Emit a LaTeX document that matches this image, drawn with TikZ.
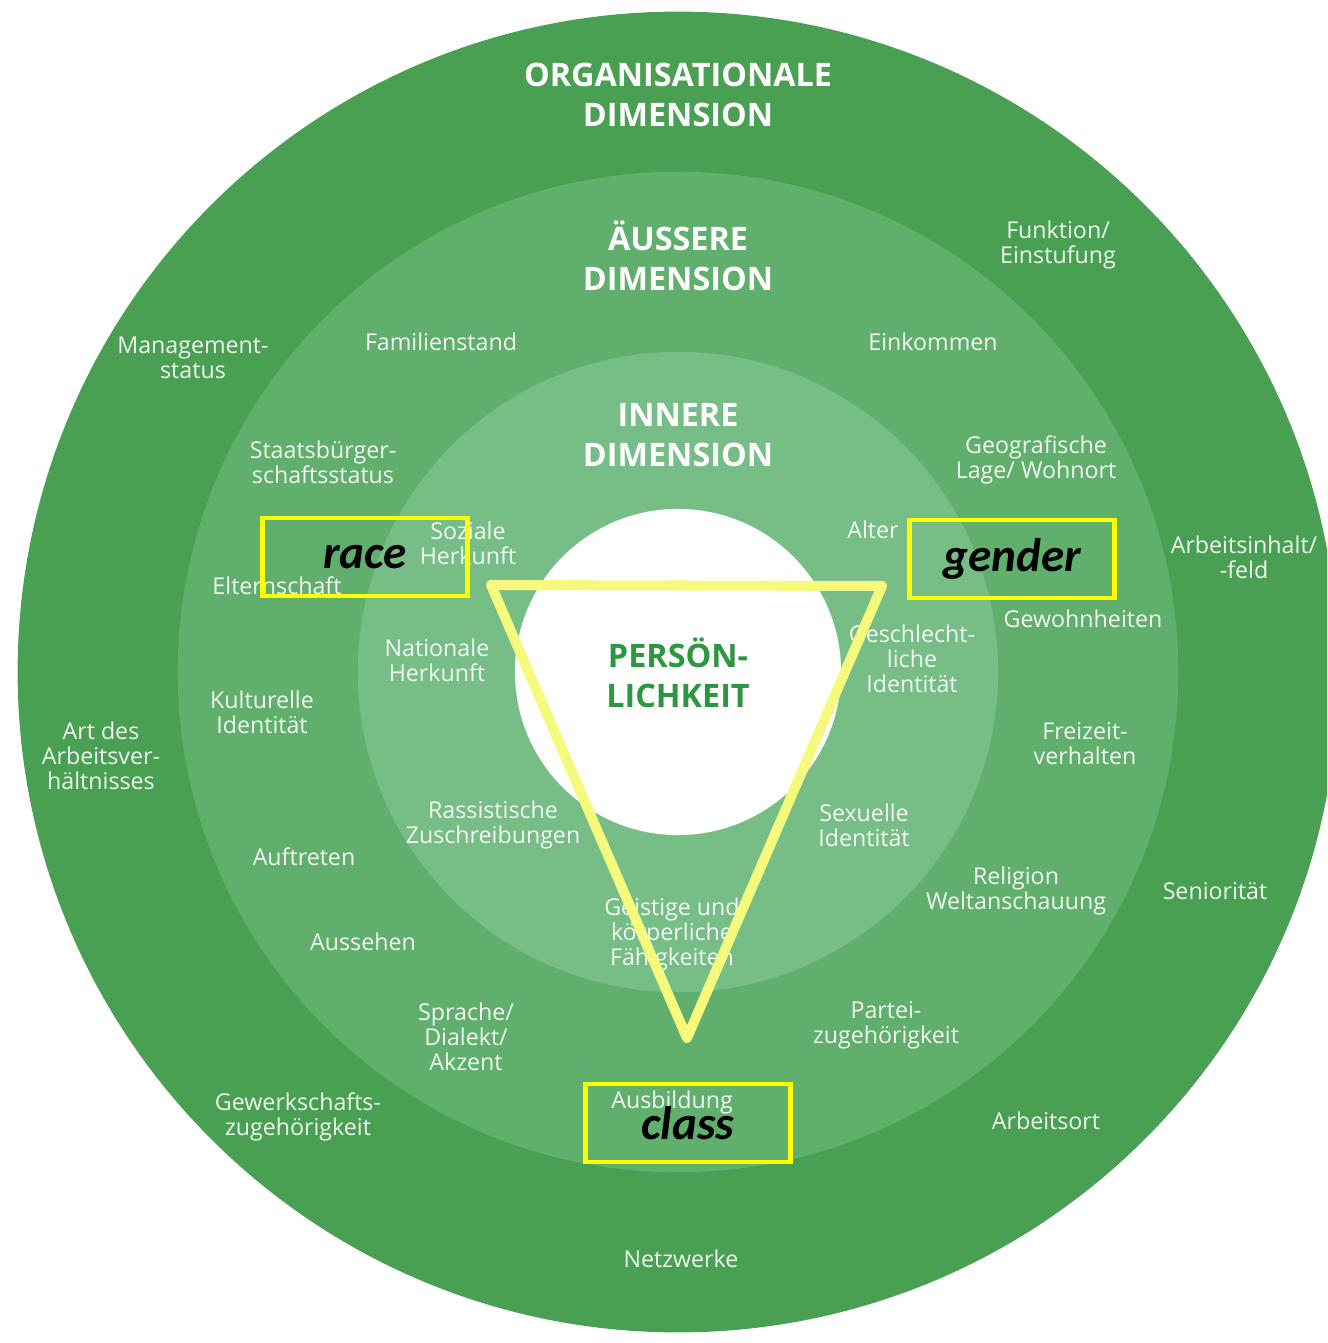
\documentclass[tikz,border=0pt]{standalone}
\usepackage{fontspec}
\setmainfont{Open Sans}
\newfontfamily\calibri{Carlito}
\usetikzlibrary{positioning}

\definecolor{orgGreen}{RGB}{73,160,82}
\definecolor{outerGreen}{RGB}{96,175,108}
\definecolor{innerGreen}{RGB}{118,189,134}
\definecolor{coreGreen}{RGB}{45,150,65}
\definecolor{triYellow}{RGB}{245,250,125}
\definecolor{boxYellow}{RGB}{255,255,0}

\begin{document}
\begin{tikzpicture}[x=0.01cm,y=-0.01cm,
    ring/.style={circle,inner sep=0pt,outer sep=0pt},
    title/.style={align=center,text=white,font=\fontsize{9.2}{11.4}\selectfont\bfseries},
    dimitem/.style={align=center,text=white,text opacity=0.92,inner sep=0pt,font=\fontsize{6.6}{7.1}\selectfont},
    marker/.style={draw=boxYellow,line width=1.4pt,minimum width=2.05cm,minimum height=0.78cm,inner sep=0pt,font=\calibri\fontsize{13.4}{14}\selectfont\bfseries\itshape}
    ]

  \useasboundingbox (0,0) rectangle (1327,1343);
  \clip (0,0) rectangle (1327,1343);

  % rings
  \node(orgRing) [ring,fill=orgGreen,minimum size=13.2cm] at (678,672) {};
  \node(outerRing) [ring,fill=outerGreen,minimum size=10cm] at (orgRing.center) {};
  \node(innerRing) [ring,fill=innerGreen,minimum size=6.4cm] at (orgRing.center) {};
  \node(core) [ring,fill=white,minimum size=3.26cm] at (orgRing.center) {};

  \node(orgTitle) [title] at (678,95) {ORGANISATIONALE\\DIMENSION};
  \node(outerTitle) [title] at (678,256) {ÄUSSERE\\DIMENSION};
  \node(innerTitle) [title] at (678,435) {INNERE\\DIMENSION};
  \node(coreTitle) [title,text=coreGreen] at (678,673) {PERSÖN-\\LICHKEIT};

  % organisationale dimension
  \node(funktion) [dimitem] at (1058,245) {Funktion/\\Einstufung};
  \node(management) [dimitem] at (193,358) {Management-\\status};
  \node(arbeitsinhalt) [dimitem] at (1244,557) {Arbeitsinhalt/\\-feld};
  \node(arbeitsverh) [dimitem] at (101,756) {Art des\\Arbeitsver-\\hältnisses};
  \node(senioritaet) [dimitem] at (1215,891) {Seniorität};
  \node(gewerkschaft) [dimitem] at (298,1117) {Gewerkschafts-\\zugehörigkeit};
  \node(arbeitsort) [dimitem] at (1046,1121) {Arbeitsort};
  \node(netzwerke) [dimitem] at (681,1259) {Netzwerke};

  % aeussere dimension
  \node(familienstand) [dimitem] at (441,342) {Familienstand};
  \node(einkommen) [dimitem] at (933,342) {Einkommen};
  \node(staatsb) [dimitem] at (323,462) {Staatsbürger-\\schaftsstatus};
  \node(geografie) [dimitem] at (1036,460) {Geografische\\Lage/ Wohnort};
  \node(elternschaft) [dimitem] at (277,586) {Elternschaft};
  \node(gewohnheiten) [dimitem] at (1083,619) {Gewohnheiten};
  \node(kulturell) [dimitem] at (262,712) {Kulturelle\\Identität};
  \node(freizeit) [dimitem] at (1085,744) {Freizeit-\\verhalten};
  \node(auftreten) [dimitem] at (304,857) {Auftreten};
  \node(religion) [dimitem] at (1016,891) {Religion\\Weltanschauung};
  \node(aussehen) [dimitem] at (363,942) {Aussehen};
  \node(sprache) [dimitem] at (466,1037) {Sprache/\\Dialekt/\\Akzent};
  \node(partei) [dimitem] at (886,1025) {Partei-\\zugehörigkeit};
  \node(ausbildung) [dimitem] at (672,1102) {Ausbildung};

  % innere dimension
  \node(sozial) [dimitem] at (468,543) {Soziale\\Herkunft};
  \node(alter) [dimitem] at (873,530) {Alter};
  \node(national) [dimitem] at (437,660) {Nationale\\Herkunft};
  \node(geschlecht) [dimitem] at (912,659) {Geschlecht-\\liche\\Identität};
  \node(rassistisch) [dimitem] at (493,825) {Rassistische\\Zuschreibungen};
  \node(sexuell) [dimitem] at (864,825) {Sexuelle\\Identität};
  \node(faehigkeit) [dimitem] at (672,934) {Geistige und\\körperliche\\Fähigkeiten};

  % triangle
  \coordinate(tl) at (491,585);
  \coordinate(tr) at (882,586);
  \coordinate(tb) at (687,1038);
  \draw[triYellow,line width=2.85pt,line join=round] (tl) -- (tr) -- (tb) -- cycle;

  \node(race) [marker] at (365,557) {race};
  \node(gender) [marker] at (1012,559) {gender};
  \node(class) [marker] at (688,1123) {class};

\end{tikzpicture}
\end{document}
